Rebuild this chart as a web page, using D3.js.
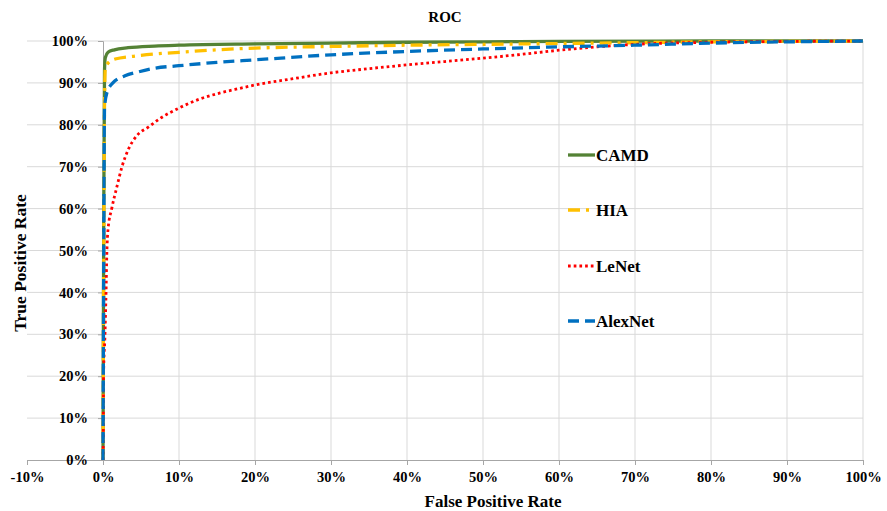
<!DOCTYPE html>
<html>
<head>
<meta charset="utf-8">
<script src="https://cdn.jsdelivr.net/npm/d3@7/dist/d3.min.js"></script>
<style>
html,body{margin:0;padding:0;background:#fff;}
svg{display:block;}
svg text{font-family:"Liberation Serif","Tinos","Times New Roman","DejaVu Serif",serif !important;font-weight:bold;fill:#000;}
</style>
</head>
<body>
<svg id="chart" width="887" height="511"></svg>
<script>
// Data (FPR, TPR)
const xTicks = [-0.1,0,0.1,0.2,0.3,0.4,0.5,0.6,0.7,0.8,0.9,1];
const yTicks = [0,0.1,0.2,0.3,0.4,0.5,0.6,0.7,0.8,0.9,1];
const seriesNames = ["CAMD","HIA","LeNet","AlexNet"];

const camd = [[0,0],[0.001,0.6],[0.002,0.93],[0.003,0.96],[0.0066,0.973],[0.015,0.979],[0.033,0.984],[0.068,0.988],[0.1,0.99],[0.2,0.993],[0.3,0.995],[0.4,0.997],[0.5,0.998],[0.6,0.999],[0.8,1],[1,1]];
const hia = [[0,0],[0.001,0.5],[0.002,0.85],[0.003,0.935],[0.006,0.946],[0.016,0.957],[0.042,0.964],[0.068,0.969],[0.1,0.973],[0.15,0.979],[0.2,0.983],[0.3,0.987],[0.4,0.99],[0.5,0.992],[0.6,0.994],[0.7,0.996],[0.8,0.998],[0.9,0.999],[1,1]];
const lenet = [[0,0],[0.0005,0.1],[0.0007,0.2],[0.0026,0.3],[0.004,0.4],[0.005,0.49],[0.0066,0.55],[0.0115,0.6],[0.018,0.65],[0.025,0.7],[0.033,0.74],[0.045,0.775],[0.06,0.795],[0.075,0.815],[0.1,0.84],[0.128,0.862],[0.154,0.876],[0.18,0.887],[0.2,0.895],[0.25,0.91],[0.3,0.924],[0.35,0.934],[0.4,0.943],[0.45,0.951],[0.5,0.959],[0.55,0.968],[0.6,0.978],[0.65,0.986],[0.7,0.992],[0.8,0.997],[0.9,0.999],[1,1]];
const alexnet = [[0,0],[0.001,0.5],[0.002,0.84],[0.005,0.876],[0.013,0.9],[0.029,0.917],[0.046,0.926],[0.068,0.935],[0.1,0.941],[0.15,0.949],[0.2,0.955],[0.3,0.967],[0.4,0.975],[0.5,0.981],[0.6,0.986],[0.7,0.99],[0.8,0.995],[0.9,0.998],[1,1]];

const seriesData = [camd, hia, lenet, alexnet];
const colors = ["#548235","#FFC000","#FF0000","#0070C0"];
const dashes = ["none","12,6,3,6","2.7,3","11,6"];
const widths = [3.3,3.3,2.8,3.3];

const svg = d3.select("#chart");
const L = 27, R = 863, T = 41, B = 460;
const x = d3.scaleLinear().domain([-0.1,1]).range([L,R]);
const y = d3.scaleLinear().domain([0,1]).range([B,T]);
const pct = d => Math.round(d*100) + "%";

// gridlines
svg.append("g").selectAll("line").data(yTicks.filter(d=>d>0)).join("line")
  .attr("x1",L).attr("x2",R).attr("y1",d=>y(d)).attr("y2",d=>y(d))
  .attr("stroke","#d9d9d9").attr("stroke-width",1);
svg.append("g").selectAll("line").data(xTicks.filter(d=>d>0)).join("line")
  .attr("x1",d=>x(d)).attr("x2",d=>x(d)).attr("y1",T).attr("y2",B)
  .attr("stroke","#d9d9d9").attr("stroke-width",1);

// x axis
const xAxis = d3.axisBottom(x).tickValues(xTicks).tickFormat(pct).tickSize(5).tickPadding(7);
const gx = svg.append("g").attr("transform",`translate(0,${B})`).call(xAxis);
gx.attr("font-family",null).attr("font-size",null);
gx.select(".domain").attr("stroke","#a6a6a6");
gx.selectAll(".tick line").attr("stroke","#a6a6a6");
gx.selectAll("text").style("font-size","14.5px").attr("fill","#000");

// y axis (crosses at 0)
const yAxis = d3.axisLeft(y).tickValues(yTicks).tickFormat(pct).tickSize(5).tickPadding(10);
const gy = svg.append("g").attr("transform",`translate(${x(0)},0)`).call(yAxis);
gy.attr("font-family",null).attr("font-size",null);
gy.select(".domain").attr("stroke","#a6a6a6");
gy.selectAll(".tick line").attr("stroke","#a6a6a6");
gy.selectAll("text").style("font-size","14.5px").attr("fill","#000");

// lines (series order: later drawn on top)
const line = d3.line().x(d=>x(d[0])).y(d=>y(d[1])).curve(d3.curveMonotoneX);
seriesData.forEach((s,i)=>{
  svg.append("path").datum(s)
    .attr("fill","none").attr("stroke",colors[i]).attr("stroke-width",widths[i])
    .attr("stroke-dasharray",dashes[i]).attr("d",line);
});

// legend
const legY = [155,210,266,321];
seriesNames.forEach((n,i)=>{
  svg.append("line").attr("x1",568).attr("x2",595).attr("y1",legY[i]).attr("y2",legY[i])
    .attr("stroke",colors[i]).attr("stroke-width",widths[i]).attr("stroke-dasharray",dashes[i]);
  svg.append("text").attr("x",596).attr("y",legY[i]+5.5).style("font-size","17px").text(n);
});

// titles
svg.append("text").attr("x",445).attr("y",22).attr("text-anchor","middle").style("font-size","15px").text("ROC");
svg.append("text").attr("x",493).attr("y",507).attr("text-anchor","middle").style("font-size","17px").text("False Positive Rate");
svg.append("text").attr("transform","translate(26,263) rotate(-90)").attr("text-anchor","middle").style("font-size","17.5px").text("True Positive Rate");
</script>
</body>
</html>
